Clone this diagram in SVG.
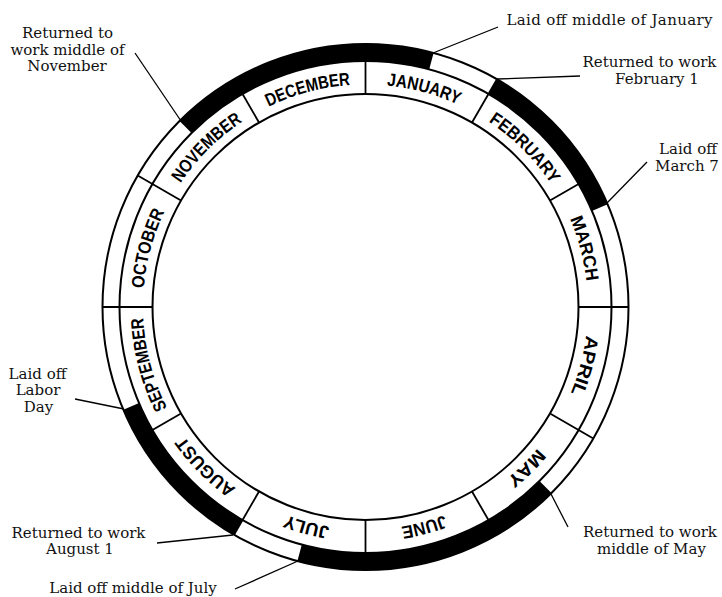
<svg xmlns="http://www.w3.org/2000/svg" xmlns:xlink="http://www.w3.org/1999/xlink" width="722" height="597" viewBox="0 0 722 597">
<style>
.ring{fill:none;stroke:#000;stroke-width:2}
.div{stroke:#000;stroke-width:1.8}
.work{fill:none;stroke:#000;stroke-width:17}
.mon{font-family:"Liberation Sans","DejaVu Sans",sans-serif;font-weight:bold;font-size:18px;fill:#000}
.ann{font-family:"DejaVu Serif","Liberation Serif",serif;font-size:15px;fill:#111;text-anchor:middle}
.lead{stroke:#000;stroke-width:1.3;fill:none}
</style>
<defs>
<path id="tp" d="M 365.5 84.5 A 222.5 222.5 0 1 1 365.5 529.5 A 222.5 222.5 0 1 1 365.5 84.5"/>
</defs>
<rect width="722" height="597" fill="#fff"/>
<g id="ring">
<circle class="ring" cx="365.5" cy="307" r="263"/>
<circle class="ring" cx="365.5" cy="307" r="246"/>
<circle class="ring" cx="365.5" cy="307" r="213"/>
<g id="dividers">
<line class="div" x1="365.5" y1="94" x2="365.5" y2="44"/>
<line class="div" x1="472" y1="122.5" x2="497" y2="79.2"/>
<line class="div" x1="550" y1="200.5" x2="593.3" y2="175.5"/>
<line class="div" x1="578.5" y1="307" x2="628.5" y2="307"/>
<line class="div" x1="550" y1="413.5" x2="593.3" y2="438.5"/>
<line class="div" x1="472" y1="491.5" x2="497" y2="534.8"/>
<line class="div" x1="365.5" y1="520" x2="365.5" y2="570"/>
<line class="div" x1="259" y1="491.5" x2="234" y2="534.8"/>
<line class="div" x1="181" y1="413.5" x2="137.7" y2="438.5"/>
<line class="div" x1="152.5" y1="307" x2="102.5" y2="307"/>
<line class="div" x1="181" y1="200.5" x2="137.7" y2="175.5"/>
<line class="div" x1="259" y1="122.5" x2="234" y2="79.2"/>
</g>
<g id="work-periods">
<path class="work" d="M 185.54 127.04 A 254.5 254.5 0 0 1 431.37 61.17"/>
<path class="work" d="M 492.75 86.59 A 254.5 254.5 0 0 1 599.77 207.56"/>
<path class="work" d="M 545.46 486.96 A 254.5 254.5 0 0 1 299.63 552.83"/>
<path class="work" d="M 238.25 527.41 A 254.5 254.5 0 0 1 131.23 406.44"/>
</g>
</g>
<g id="month-january"><text class="mon"><textPath xlink:href="#tp" href="#tp" startOffset="58.3" text-anchor="middle" textLength="74" lengthAdjust="spacingAndGlyphs">JANUARY</textPath></text></g>
<g id="month-february"><text class="mon"><textPath xlink:href="#tp" href="#tp" startOffset="174.8" text-anchor="middle" textLength="89" lengthAdjust="spacingAndGlyphs">FEBRUARY</textPath></text></g>
<g id="month-march"><text class="mon"><textPath xlink:href="#tp" href="#tp" startOffset="291.2" text-anchor="middle" textLength="65" lengthAdjust="spacingAndGlyphs">MARCH</textPath></text></g>
<g id="month-april"><text class="mon"><textPath xlink:href="#tp" href="#tp" startOffset="407.8" text-anchor="middle" textLength="60" lengthAdjust="spacingAndGlyphs">APRIL</textPath></text></g>
<g id="month-may"><text class="mon"><textPath xlink:href="#tp" href="#tp" startOffset="524.2" text-anchor="middle" textLength="44" lengthAdjust="spacingAndGlyphs">MAY</textPath></text></g>
<g id="month-june"><text class="mon"><textPath xlink:href="#tp" href="#tp" startOffset="640.7" text-anchor="middle" textLength="45" lengthAdjust="spacingAndGlyphs">JUNE</textPath></text></g>
<g id="month-july"><text class="mon"><textPath xlink:href="#tp" href="#tp" startOffset="757.2" text-anchor="middle" textLength="45" lengthAdjust="spacingAndGlyphs">JULY</textPath></text></g>
<g id="month-august"><text class="mon"><textPath xlink:href="#tp" href="#tp" startOffset="873.7" text-anchor="middle" textLength="74" lengthAdjust="spacingAndGlyphs">AUGUST</textPath></text></g>
<g id="month-september"><text class="mon"><textPath xlink:href="#tp" href="#tp" startOffset="990.2" text-anchor="middle" textLength="94" lengthAdjust="spacingAndGlyphs">SEPTEMBER</textPath></text></g>
<g id="month-october"><text class="mon"><textPath xlink:href="#tp" href="#tp" startOffset="1106.7" text-anchor="middle" textLength="80" lengthAdjust="spacingAndGlyphs">OCTOBER</textPath></text></g>
<g id="month-november"><text class="mon"><textPath xlink:href="#tp" href="#tp" startOffset="1223.2" text-anchor="middle" textLength="88" lengthAdjust="spacingAndGlyphs">NOVEMBER</textPath></text></g>
<g id="month-december"><text class="mon"><textPath xlink:href="#tp" href="#tp" startOffset="1339.7" text-anchor="middle" textLength="85" lengthAdjust="spacingAndGlyphs">DECEMBER</textPath></text></g>
<g id="connectors">
<line class="lead" x1="498" y1="27" x2="433" y2="53"/>
<line class="lead" x1="580" y1="76" x2="497" y2="79"/>
<line class="lead" x1="647" y1="162" x2="606" y2="204"/>
<line class="lead" x1="135" y1="53" x2="181" y2="121"/>
<line class="lead" x1="75" y1="399" x2="124" y2="409"/>
<line class="lead" x1="157" y1="543" x2="233" y2="535"/>
<line class="lead" x1="235" y1="589" x2="298" y2="561"/>
<line class="lead" x1="568" y1="527" x2="551" y2="494"/>
</g>
<g id="note-laid-off-jan"><text class="ann" x="609.5" y="25" textLength="206">Laid off middle of January</text></g>
<g id="note-returned-feb"><text class="ann" x="649.5" y="67">Returned to work</text><text class="ann" x="657" y="83.5">February 1</text></g>
<g id="note-laid-off-march"><text class="ann" x="688" y="154">Laid off</text><text class="ann" x="687" y="170.5">March 7</text></g>
<g id="note-returned-nov"><text class="ann" x="67.5" y="38">Returned to</text><text class="ann" x="67.5" y="54.5">work middle of</text><text class="ann" x="67" y="71">November</text></g>
<g id="note-laid-off-labor"><text class="ann" x="37.5" y="378.5">Laid off</text><text class="ann" x="38" y="395">Labor</text><text class="ann" x="38.5" y="411.5">Day</text></g>
<g id="note-returned-aug"><text class="ann" x="78.5" y="537.5">Returned to work</text><text class="ann" x="80" y="554">August 1</text></g>
<g id="note-laid-off-july"><text class="ann" x="133" y="593">Laid off middle of July</text></g>
<g id="note-returned-may"><text class="ann" x="650" y="537">Returned to work</text><text class="ann" x="651.5" y="553.5">middle of May</text></g>
</svg>
